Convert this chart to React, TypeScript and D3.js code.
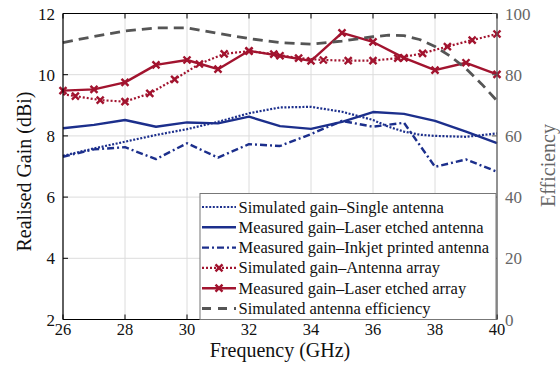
import React from "react";
import * as d3 from "d3";

const W = 560, H = 370;
const M = { left: 63, right: 497, top: 13.5, bottom: 319.5 };

const freqInt = [26, 27, 28, 29, 30, 31, 32, 33, 34, 35, 36, 37, 38, 39, 40];
const simSingleF = [26, 27, 28, 29, 30, 31, 32, 33, 34, 35, 36, 36.5, 37, 37.5, 38, 39, 40];
const simSingle = [7.35, 7.59, 7.81, 8.03, 8.22, 8.46, 8.74, 8.93, 8.95, 8.79, 8.52, 8.3, 8.14, 8.04, 8.0, 7.97, 8.08];
const measLaser = [8.25, 8.36, 8.52, 8.3, 8.44, 8.41, 8.63, 8.32, 8.23, 8.46, 8.78, 8.72, 8.49, 8.14, 7.76];
const measInkjet = [7.32, 7.56, 7.63, 7.24, 7.76, 7.29, 7.73, 7.67, 8.06, 8.49, 8.3, 8.43, 6.99, 7.23, 6.83];
const simArrayF = [26, 26.4, 27.2, 28, 28.8, 29.6, 30.4, 31.2, 32, 32.8, 33.6, 34.4, 35.2, 36, 36.8, 37.6, 38.4, 39.2, 40];
const simArray = [9.36, 9.3, 9.17, 9.12, 9.39, 9.85, 10.35, 10.68, 10.77, 10.67, 10.54, 10.48, 10.46, 10.46, 10.54, 10.7, 10.92, 11.13, 11.33];
const measArray = [9.48, 9.52, 9.75, 10.32, 10.48, 10.18, 10.78, 10.62, 10.45, 11.37, 11.07, 10.55, 10.15, 10.39, 10.01];
const effF = [26, 27, 28, 29, 30, 31, 32, 33, 34, 35, 36, 36.5, 37, 37.5, 38, 38.5, 39, 39.5, 40];
const effV = [90.5, 92.5, 94.3, 95.3, 95.3, 93.5, 91.8, 90.5, 90.0, 91.0, 92.4, 92.9, 92.8, 91.5, 89.2, 86, 82, 77, 71.5];

const xTicks = [26, 28, 30, 32, 34, 36, 38, 40];
const yTicks = [2, 4, 6, 8, 10, 12];
const y2Ticks = [0, 20, 40, 60, 80, 100];

const legendLabels = [
  "Simulated gain\u2013Single antenna",
  "Measured gain\u2013Laser etched antenna",
  "Measured gain\u2013Inkjet printed antenna",
  "Simulated gain\u2013Antenna array",
  "Measured gain\u2013Laser etched array",
  "Simulated antenna efficiency",
];

const BLUE = "#1c2f8c";
const RED = "#a2142f";
const GRAY = "#555555";
const TS = { fontFamily: '"Liberation Serif"' };

const x = d3.scaleLinear().domain([26, 40]).range([M.left, M.right]);
const y = d3.scaleLinear().domain([2, 12]).range([M.bottom, M.top]);
const y2 = d3.scaleLinear().domain([0, 100]).range([M.bottom, M.top]);

const lineFn = (xs: number[], ys: number[], sy = y) =>
  d3.line<number>().x((_, i) => x(xs[i])).y((v) => sy(v))(ys) || "";

const styles = [
  { color: BLUE, width: 2.2, dash: "2 1.6", marker: false },
  { color: BLUE, width: 2.4, dash: undefined, marker: false },
  { color: BLUE, width: 2.4, dash: "7 3 2 3", marker: false },
  { color: RED, width: 2.2, dash: "2 2", marker: true },
  { color: RED, width: 2.4, dash: undefined, marker: true },
  { color: GRAY, width: 2.8, dash: "10 6", marker: false },
];

const Marker = ({ cx, cy, color }: { cx: number; cy: number; color: string }) => (
  <g transform={`translate(${cx},${cy})`}>
    <path d="M-3.5,-3.5L3.5,3.5M-3.5,3.5L3.5,-3.5" stroke={color} strokeWidth={2.4} fill="none" />
    <circle r={1.8} fill={color} />
  </g>
);

export default function App() {
  const series = [
    { d: lineFn(simSingleF, simSingle) },
    { d: lineFn(freqInt, measLaser) },
    { d: lineFn(freqInt, measInkjet) },
    { d: lineFn(simArrayF, simArray) },
    { d: lineFn(freqInt, measArray) },
    { d: lineFn(effF, effV, y2) },
  ];
  const legX = 200, legY = 193.5, legW = 296, legH = 126;
  return (
    <svg width={W} height={H} style={{ position: "absolute", left: 0, top: 0, background: "#fff" }}>
      <rect x={0} y={0} width={W} height={H} fill="#fff" />
      {xTicks.map((t) => (
        <line key={"gx" + t} x1={x(t)} x2={x(t)} y1={M.top} y2={M.bottom} stroke="#dcdcdc" strokeWidth={1} />
      ))}
      {yTicks.map((t) => (
        <line key={"gy" + t} x1={M.left} x2={M.right} y1={y(t)} y2={y(t)} stroke="#dcdcdc" strokeWidth={1} />
      ))}
      {series.map((s, i) => (
        <path key={"s" + i} d={s.d} fill="none" stroke={styles[i].color} strokeWidth={styles[i].width}
          strokeDasharray={styles[i].dash} strokeLinejoin="round" />
      ))}
      {simArrayF.map((f, i) => (i > 0 ? <Marker key={"ma" + i} cx={x(f)} cy={y(simArray[i])} color={RED} /> : null))}
      {freqInt.map((f, i) => (
        <Marker key={"mb" + i} cx={x(f)} cy={y(measArray[i])} color={RED} />
      ))}
      <line x1={M.left} x2={M.right} y1={M.top} y2={M.top} stroke="#000" strokeWidth={1.2} />
      <line x1={M.left} x2={M.right} y1={M.bottom} y2={M.bottom} stroke="#000" strokeWidth={1.2} />
      <line x1={M.left} x2={M.left} y1={M.top} y2={M.bottom} stroke="#000" strokeWidth={1.2} />
      <line x1={M.right} x2={M.right} y1={M.top} y2={M.bottom} stroke="#555" strokeWidth={1.2} />
      {xTicks.map((t) => (
        <g key={"xt" + t}>
          <line x1={x(t)} x2={x(t)} y1={M.bottom} y2={M.bottom - 5} stroke="#000" />
          <line x1={x(t)} x2={x(t)} y1={M.top} y2={M.top + 5} stroke="#000" />
          <text x={x(t)} y={335} textAnchor="middle" fontSize={16.5} fill="#111" style={TS}>{t}</text>
        </g>
      ))}
      {yTicks.map((t) => (
        <g key={"yt" + t}>
          <line x1={M.left} x2={M.left + 5} y1={y(t)} y2={y(t)} stroke="#000" />
          <text x={55} y={y(t) + 6} textAnchor="end" fontSize={17} fill="#111" style={TS}>{t}</text>
        </g>
      ))}
      {y2Ticks.map((t) => (
        <g key={"y2t" + t}>
          <line x1={M.right - 5} x2={M.right} y1={y2(t)} y2={y2(t)} stroke="#555" />
          <text x={505} y={y2(t) + 6} textAnchor="start" fontSize={17} fill="#666" style={TS}>{t}</text>
        </g>
      ))}
      <text x={280} y={356.5} textAnchor="middle" fontSize={20} fill="#111" style={TS}>Frequency (GHz)</text>
      <text transform="translate(31,171.5) rotate(-90)" textAnchor="middle" fontSize={20} fill="#111" style={TS}>Realised Gain (dBi)</text>
      <text transform="translate(555,165.5) rotate(-90)" textAnchor="middle" fontSize={20} fill="#666" style={TS}>Efficiency</text>
      <rect x={legX} y={legY} width={legW} height={legH} fill="#fff" stroke="#777" strokeWidth={1} />
      {legendLabels.map((lab, i) => {
        const ly = 207 + i * 20.3;
        const st = styles[i];
        return (
          <g key={"lg" + i}>
            <line x1={202} x2={236} y1={ly} y2={ly} stroke={st.color} strokeWidth={st.width}
              strokeDasharray={i === 5 ? "9 7" : st.dash} />
            {st.marker ? <Marker cx={219} cy={ly} color={st.color} /> : null}
            <text x={238.5} y={ly + 5.5} fontSize={16.5} fill="#111" style={TS}>{lab}</text>
          </g>
        );
      })}
    </svg>
  );
}
